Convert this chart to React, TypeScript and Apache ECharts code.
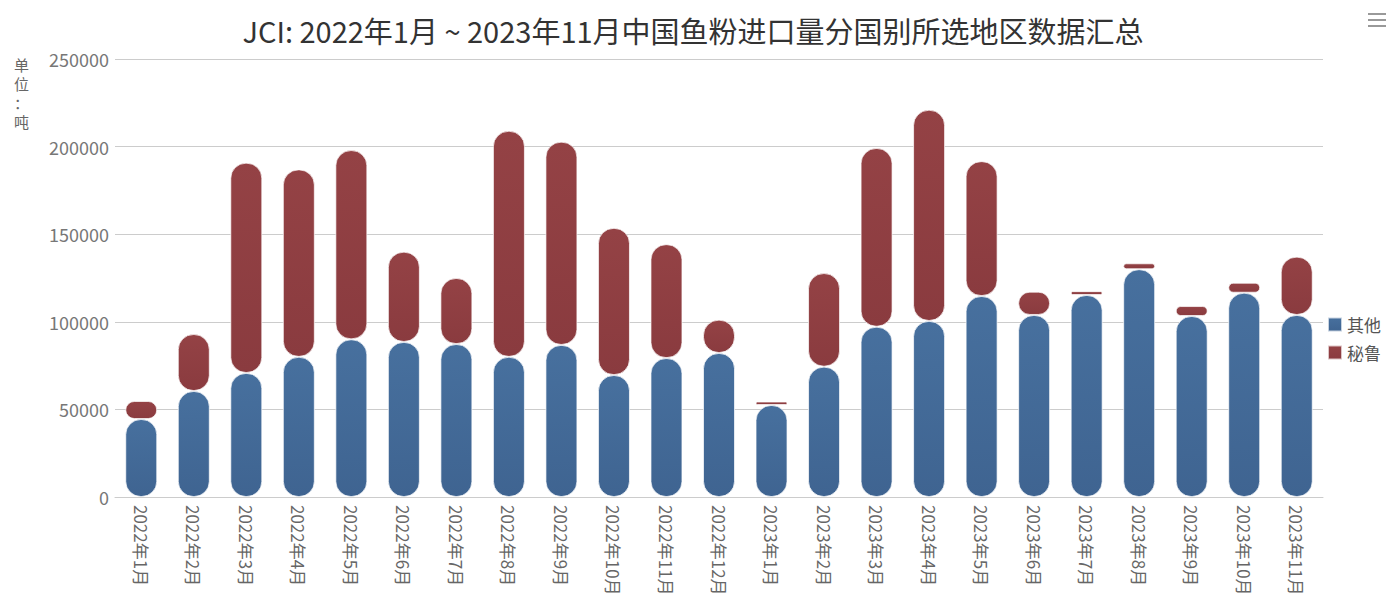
import React, { useEffect, useRef } from "react";
import * as echarts from "echarts";

const categories = [
  "2022年1月", "2022年2月", "2022年3月", "2022年4月", "2022年5月", "2022年6月",
  "2022年7月", "2022年8月", "2022年9月", "2022年10月", "2022年11月", "2022年12月",
  "2023年1月", "2023年2月", "2023年3月", "2023年4月", "2023年5月", "2023年6月",
  "2023年7月", "2023年8月", "2023年9月", "2023年10月", "2023年11月",
];

const otherValues = [
  44500, 60500, 70800, 80000, 90000, 88500, 87300, 80000, 86800, 69600, 79300, 82200,
  52500, 74400, 97200, 100500, 114700, 103900, 115300, 130000, 103300, 116600, 103900,
];

const peruValues = [
  10300, 32500, 120000, 107000, 108000, 51500, 37700, 129000, 116000, 84000, 65000, 19000,
  2000, 53400, 102000, 120500, 77000, 13300, 2200, 3400, 5700, 5700, 33300,
];

const seriesNames = ["其他", "秘鲁"];
const titleText = "JCI: 2022年1月 ~ 2023年11月中国鱼粉进口量分国别所选地区数据汇总";
const yAxisNameChars = ["单", "位", "：", "吨"];

const FONT = "'Noto Sans CJK SC', 'Noto Sans', sans-serif";

export default function App() {
  const ref = useRef<HTMLDivElement>(null);
  useEffect(() => {
    if (!ref.current) return;
    const chart = echarts.init(ref.current, null, { renderer: "svg" });
    const blue = new echarts.graphic.LinearGradient(0, 0, 0, 1, [
      { offset: 0, color: "#47709e" },
      { offset: 1, color: "#3f6491" },
    ]);
    const red = new echarts.graphic.LinearGradient(0, 0, 0, 1, [
      { offset: 0, color: "#944245" },
      { offset: 1, color: "#8a3b3f" },
    ]);
    const nameTops = [57, 76, 95, 114];
    chart.setOption({
      animation: false,
      backgroundColor: "#ffffff",
      textStyle: { fontFamily: FONT },
      title: {
        text: titleText,
        left: "center",
        top: 10,
        textStyle: { fontSize: 29, fontWeight: "normal", color: "#333333", fontFamily: FONT },
      },
      legend: {
        orient: "vertical",
        right: 0,
        top: 311,
        itemWidth: 14,
        itemHeight: 14,
        itemGap: 11,
        icon: "rect",
        data: seriesNames,
        textStyle: { fontSize: 17, color: "#555555", fontFamily: FONT },
      },
      grid: {
        left: 115,
        right: 63,
        top: 59,
        bottom: 104,
        containLabel: false,
        outerBoundsMode: "none",
      },
      xAxis: {
        type: "category",
        data: categories,
        axisLine: { lineStyle: { color: "#cccccc" } },
        axisTick: { lineStyle: { color: "#cccccc" } },
        axisLabel: {
          rotate: -90,
          interval: 0,
          fontSize: 17,
          color: "#666666",
          margin: 8,
          fontFamily: FONT,
        },
      },
      yAxis: {
        type: "value",
        min: 0,
        max: 250000,
        interval: 50000,
        axisLine: { show: false },
        axisTick: { show: false },
        axisLabel: {
          fontSize: 18,
          color: "#777777",
          margin: 6,
          fontFamily: FONT,
          formatter: (v: number) => String(v),
        },
        splitLine: { lineStyle: { color: "#cccccc" } },
      },
      graphic: [
        ...yAxisNameChars.map((ch, i) => ({
          type: "text",
          left: 14,
          top: nameTops[i],
          style: { text: ch, fontSize: 15, fill: "#666666", fontFamily: FONT },
        })),
        { type: "rect", shape: { x: 1368, y: 13, width: 18, height: 2 }, style: { fill: "#999999" } },
        { type: "rect", shape: { x: 1368, y: 19, width: 18, height: 2 }, style: { fill: "#999999" } },
        { type: "rect", shape: { x: 1368, y: 25, width: 18, height: 2 }, style: { fill: "#999999" } },
      ],
      series: [
        {
          name: seriesNames[0],
          type: "bar",
          stack: "total",
          barWidth: 32,
          data: otherValues,
          itemStyle: {
            color: blue,
            borderRadius: 15,
            borderColor: "rgba(255,255,255,0.7)",
            borderWidth: 1,
          },
        },
        {
          name: seriesNames[1],
          type: "bar",
          stack: "total",
          barWidth: 32,
          data: peruValues,
          itemStyle: {
            color: red,
            borderRadius: 15,
            borderColor: "rgba(255,255,255,0.7)",
            borderWidth: 1,
          },
        },
      ],
    });
    return () => chart.dispose();
  }, []);
  return (
    <div
      ref={ref}
      style={{ position: "fixed", left: 0, top: 0, width: 1386, height: 601 }}
    />
  );
}
